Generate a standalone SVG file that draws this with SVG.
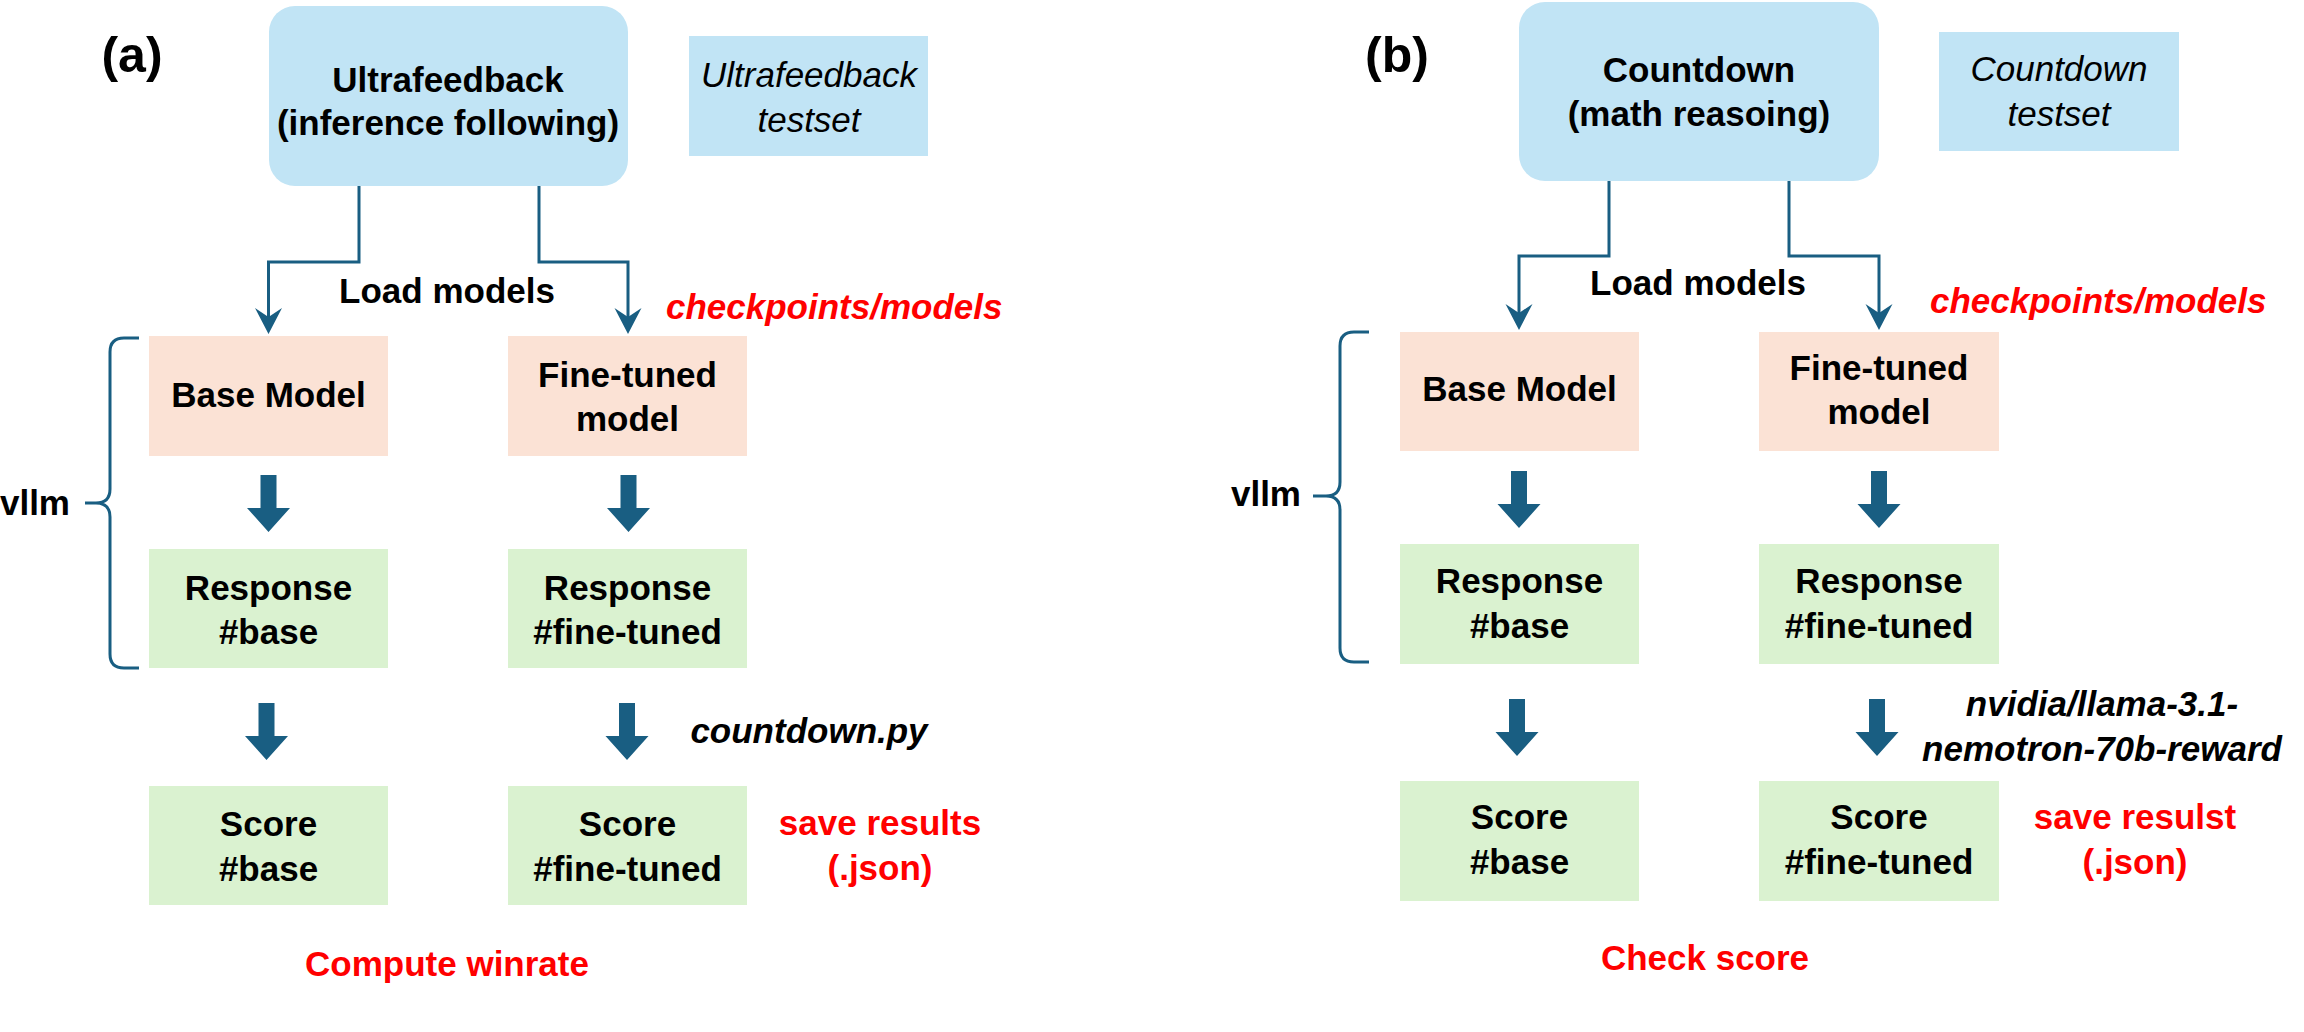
<svg xmlns="http://www.w3.org/2000/svg" width="2304" height="1032" viewBox="0 0 2304 1032">
<style>
text{font-family:"Liberation Sans",Arial,Helvetica,sans-serif;font-size:35px;text-anchor:middle;fill:#000}
.b{font-weight:bold}
.i{font-style:italic}
.red{fill:#FF0000}
.blue{fill:#C1E4F5}
.peach{fill:#FBE2D5}
.green{fill:#DAF2D0}
.conn{fill:none;stroke:#195E82;stroke-width:3}
.blk{fill:#195E82}
.label{font-size:50px;font-weight:bold}
</style>
<defs>
<marker id="ah" markerUnits="userSpaceOnUse" viewBox="0 -14 27 28" refX="9" refY="0" markerWidth="27" markerHeight="28" orient="auto">
<path d="M0,-13.5 L26,0 L0,13.5 L9,0 Z" fill="#195E82"/>
</marker>
<path id="bigArrow" d="M-8,0 L8,0 L8,33 L21.5,33 L0,57 L-21.5,33 L-8,33 Z"/>
</defs>

<!-- Panel (a) -->
<text class="label" x="132" y="72">(a)</text>

<g id="a-ultrafeedback">
<rect class="blue" x="269" y="6" width="359" height="180" rx="26"/>
<text class="b" x="448" y="92">Ultrafeedback</text>
<text class="b" x="448" y="135">(inference following)</text>
</g>
<g id="a-testset">
<rect class="blue" x="689" y="36" width="239" height="120"/>
<text class="i" x="809" y="87">Ultrafeedback</text>
<text class="i" x="809" y="132">testset</text>
</g>
<g id="a-base-model">
<rect class="peach" x="149" y="336" width="239" height="120"/>
<text class="b" x="268.5" y="407">Base Model</text>
</g>
<g id="a-finetuned-model">
<rect class="peach" x="508" y="336" width="239" height="120"/>
<text class="b" x="627.5" y="387">Fine-tuned</text>
<text class="b" x="627.5" y="431">model</text>
</g>
<g id="a-response-base">
<rect class="green" x="149" y="549" width="239" height="119"/>
<text class="b" x="268.5" y="600">Response</text>
<text class="b" x="268.5" y="644">#base</text>
</g>
<g id="a-response-ft">
<rect class="green" x="508" y="549" width="239" height="119"/>
<text class="b" x="627.5" y="600">Response</text>
<text class="b" x="627.5" y="644">#fine-tuned</text>
</g>
<g id="a-score-base">
<rect class="green" x="149" y="786" width="239" height="119"/>
<text class="b" x="268.5" y="836">Score</text>
<text class="b" x="268.5" y="881">#base</text>
</g>
<g id="a-score-ft">
<rect class="green" x="508" y="786" width="239" height="119"/>
<text class="b" x="627.5" y="836">Score</text>
<text class="b" x="627.5" y="881">#fine-tuned</text>
</g>

<g id="a-connectors">
<polyline class="conn" points="359,186 359,262 268.5,262 268.5,317" marker-end="url(#ah)"/>
<polyline class="conn" points="539,186 539,262 628,262 628,317" marker-end="url(#ah)"/>
<use href="#bigArrow" class="blk" x="268.5" y="475"/>
<use href="#bigArrow" class="blk" x="628.5" y="475"/>
<use href="#bigArrow" class="blk" x="266.5" y="703"/>
<use href="#bigArrow" class="blk" x="627" y="703"/>
<path class="conn" d="M139,338 L124,338 Q110,338 110,352 L110,489 Q110,503 96,503 L85,503 M96,503 Q110,503 110,517 L110,654 Q110,668 124,668 L139,668"/>
</g>

<g id="a-labels">
<text class="b" x="447" y="303">Load models</text>
<text class="b i red" x="666" y="319" style="text-anchor:start">checkpoints/models</text>
<text class="b" x="70" y="515" style="text-anchor:end">vllm</text>
<text class="b i" x="809" y="743">countdown.py</text>
<text class="b red" x="880" y="835">save results</text>
<text class="b red" x="880" y="880">(.json)</text>
<text class="b red" x="447" y="976">Compute winrate</text>
</g>

<!-- Panel (b) -->
<text class="label" x="1397" y="72">(b)</text>

<g id="b-countdown">
<rect class="blue" x="1519" y="2" width="360" height="179" rx="26"/>
<text class="b" x="1699" y="82">Countdown</text>
<text class="b" x="1699" y="126">(math reasoing)</text>
</g>
<g id="b-testset">
<rect class="blue" x="1939" y="32" width="240" height="119"/>
<text class="i" x="2059" y="81">Countdown</text>
<text class="i" x="2059" y="126">testset</text>
</g>
<g id="b-base-model">
<rect class="peach" x="1400" y="332" width="239" height="119"/>
<text class="b" x="1519.5" y="401">Base Model</text>
</g>
<g id="b-finetuned-model">
<rect class="peach" x="1759" y="332" width="240" height="119"/>
<text class="b" x="1879" y="380">Fine-tuned</text>
<text class="b" x="1879" y="424">model</text>
</g>
<g id="b-response-base">
<rect class="green" x="1400" y="544" width="239" height="120"/>
<text class="b" x="1519.5" y="593">Response</text>
<text class="b" x="1519.5" y="638">#base</text>
</g>
<g id="b-response-ft">
<rect class="green" x="1759" y="544" width="240" height="120"/>
<text class="b" x="1879" y="593">Response</text>
<text class="b" x="1879" y="638">#fine-tuned</text>
</g>
<g id="b-score-base">
<rect class="green" x="1400" y="781" width="239" height="120"/>
<text class="b" x="1519.5" y="829">Score</text>
<text class="b" x="1519.5" y="874">#base</text>
</g>
<g id="b-score-ft">
<rect class="green" x="1759" y="781" width="240" height="120"/>
<text class="b" x="1879" y="829">Score</text>
<text class="b" x="1879" y="874">#fine-tuned</text>
</g>

<g id="b-connectors">
<polyline class="conn" points="1609,181 1609,256 1519,256 1519,313" marker-end="url(#ah)"/>
<polyline class="conn" points="1789,181 1789,256 1879,256 1879,313" marker-end="url(#ah)"/>
<use href="#bigArrow" class="blk" x="1519" y="471"/>
<use href="#bigArrow" class="blk" x="1879" y="471"/>
<use href="#bigArrow" class="blk" x="1517" y="699"/>
<use href="#bigArrow" class="blk" x="1877" y="699"/>
<path class="conn" d="M1369,332 L1354,332 Q1340,332 1340,346 L1340,482 Q1340,496 1326,496 L1313,496 M1326,496 Q1340,496 1340,510 L1340,648 Q1340,662 1354,662 L1369,662"/>
</g>

<g id="b-labels">
<text class="b" x="1698" y="295">Load models</text>
<text class="b i red" x="1930" y="313" style="text-anchor:start">checkpoints/models</text>
<text class="b" x="1301" y="506" style="text-anchor:end">vllm</text>
<text class="b i" x="2102" y="716">nvidia/llama-3.1-</text>
<text class="b i" x="2102" y="761">nemotron-70b-reward</text>
<text class="b red" x="2135" y="829">save resulst</text>
<text class="b red" x="2135" y="874">(.json)</text>
<text class="b red" x="1705" y="970">Check score</text>
</g>
</svg>
